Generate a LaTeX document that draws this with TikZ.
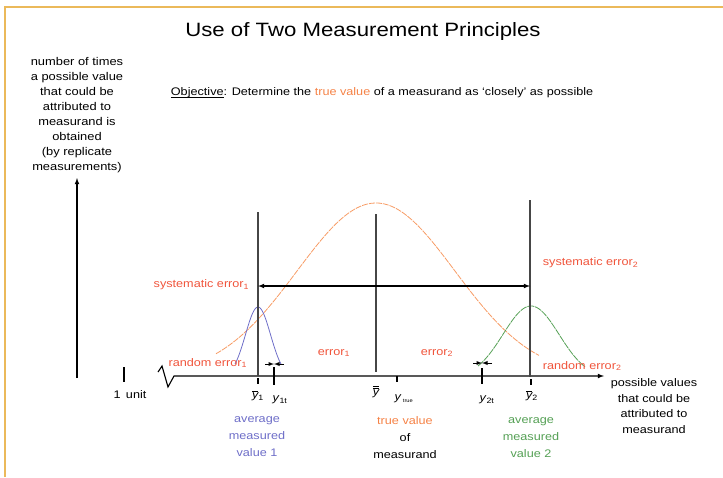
\documentclass[tikz,border=0pt]{standalone}
\usepackage{fontspec}
\setmainfont[FakeStretch=1.15]{Liberation Sans}
\definecolor{errred}{RGB}{240,85,60}
\definecolor{truecol}{RGB}{245,130,70}
\definecolor{bellorange}{RGB}{247,155,100}
\definecolor{bellblue}{RGB}{110,110,200}
\definecolor{bellgreen}{RGB}{85,160,85}
\definecolor{framecol}{RGB}{235,185,90}
\definecolor{linegray}{RGB}{70,70,70}
\tikzset{
  vline/.style={linegray, line width=1.3pt},
  errtext/.style={errred, font=\fontsize{11}{12}\selectfont},
  axtext/.style={font=\fontsize{11}{12}\selectfont},
  block/.style={align=center, font=\fontsize{11}{17}\selectfont}
}
\newcommand{\ybar}{\ensuremath{\overline{\mbox{\itshape y}}}}
\begin{document}
\begin{tikzpicture}[x=1pt, y=-1pt, >=latex, line width=1.1pt]
\useasboundingbox (0,0) rectangle (723,477);
\draw[framecol, line width=1.3pt] (5,477) -- (5,7) -- (723,7);
\node (title) at (363,32) {\fontsize{19.3}{22}\selectfont Use of Two Measurement Principles};
\node[block, font=\fontsize{11.2}{15.1}\selectfont] (count) at (77,115)
  {number of times\\a possible value\\that could be\\attributed to\\measurand is\\obtained\\(by replicate\\measurements)};
\node[anchor=west, axtext] (objective) at (167,93)
  {\underline{\smash{Objective}}: Determine the \textcolor{truecol}{true value} of a measurand as `closely' as possible};
% axes
\coordinate (ybot) at (77,378);
\coordinate (ytop) at (77,178);
\draw[->] (ybot) -- (ytop);
\coordinate (xstart) at (158,372);
\coordinate (xend) at (604,376);
\draw[->] (xstart) -- (162,366) -- (168,387) -- (174,376) -- (xend);
\draw (124,367) -- (124,382);
\node[axtext] (unit) at (130,395) {1\, unit};
% bell curves
\draw[bellorange, line width=0.8pt, dash pattern=on 6pt off 1pt, domain=216:539, samples=80, smooth]
  plot (\x, {376-173*exp(-0.5*((\x-376)/79)^2)});
\draw[bellblue, line width=0.8pt, domain=235:281, samples=40, smooth]
  plot (\x, {377-70*exp(-0.5*((\x-258)/12.5)^2)});
\draw[bellgreen, line width=0.8pt, dash pattern=on 7pt off 0.8pt, domain=478:585, samples=50, smooth]
  plot (\x, {378-72*exp(-0.5*((\x-531)/28)^2)});
% measured values
\draw[vline] (258,212) -- (258,376);
\draw[vline] (376,214) -- (376,372);
\draw[vline] (530,200) -- (530,377);
\draw (258,378) -- (258,384);
\draw (274,367) -- (274,385);
\draw (397,376) -- (397,382);
\draw (482,368) -- (482,384);
\draw (531,379) -- (531,385);
\node[axtext] (ybar1) at (258,396) {\ybar\textsubscript{1}};
\node[axtext] (y1t) at (280,400) {\textit{y}\textsubscript{1t}};
\node[axtext] (ybarbar) at (376,392) {\ensuremath{\overline{\overline{\mbox{\itshape y}}}}};
\node[axtext] (ytrue) at (404,399) {\textit{y}\textsubscript{\,\tiny true}};
\node[axtext] (y2t) at (487,400) {\textit{y}\textsubscript{2t}};
\node[axtext] (ybar2) at (532,396) {\ybar\textsubscript{2}};
% errors
\coordinate (sys1) at (258,286);
\coordinate (sys2) at (530,286);
\draw[<->] (sys1) -- (sys2);
\draw[->, line width=0.9pt] (265,364) -- (274,364);
\draw[->, line width=0.9pt] (284,364) -- (274,364);
\draw[->, line width=0.9pt] (473,363) -- (482,363);
\draw[->, line width=0.9pt] (492,363) -- (482,363);
\node[errtext, anchor=east] (syserr1) at (253,285) {systematic error\textsubscript{1}};
\node[errtext, anchor=west] (syserr2) at (539,263) {systematic error\textsubscript{2}};
\node[errtext, anchor=east] (randerr1) at (251,363) {random error\textsubscript{1}};
\node[errtext, anchor=west] (randerr2) at (539,366) {random error\textsubscript{2}};
\node[errtext] (err1) at (334,353) {error\textsubscript{1}};
\node[errtext] (err2) at (437,353) {error\textsubscript{2}};
% bottom captions
\node[block, bellblue] (avg1) at (257,437) {average\\measured\\value 1};
\node[block] (truelab) at (405,438) {\textcolor{truecol}{true value}\\of\\measurand};
\node[block, bellgreen] (avg2) at (531,438) {average\\measured\\value 2};
\node[block, font=\fontsize{11}{15.6}\selectfont] (possible) at (654,406)
  {possible values\\that could be\\attributed to\\measurand};
\end{tikzpicture}
\end{document}
